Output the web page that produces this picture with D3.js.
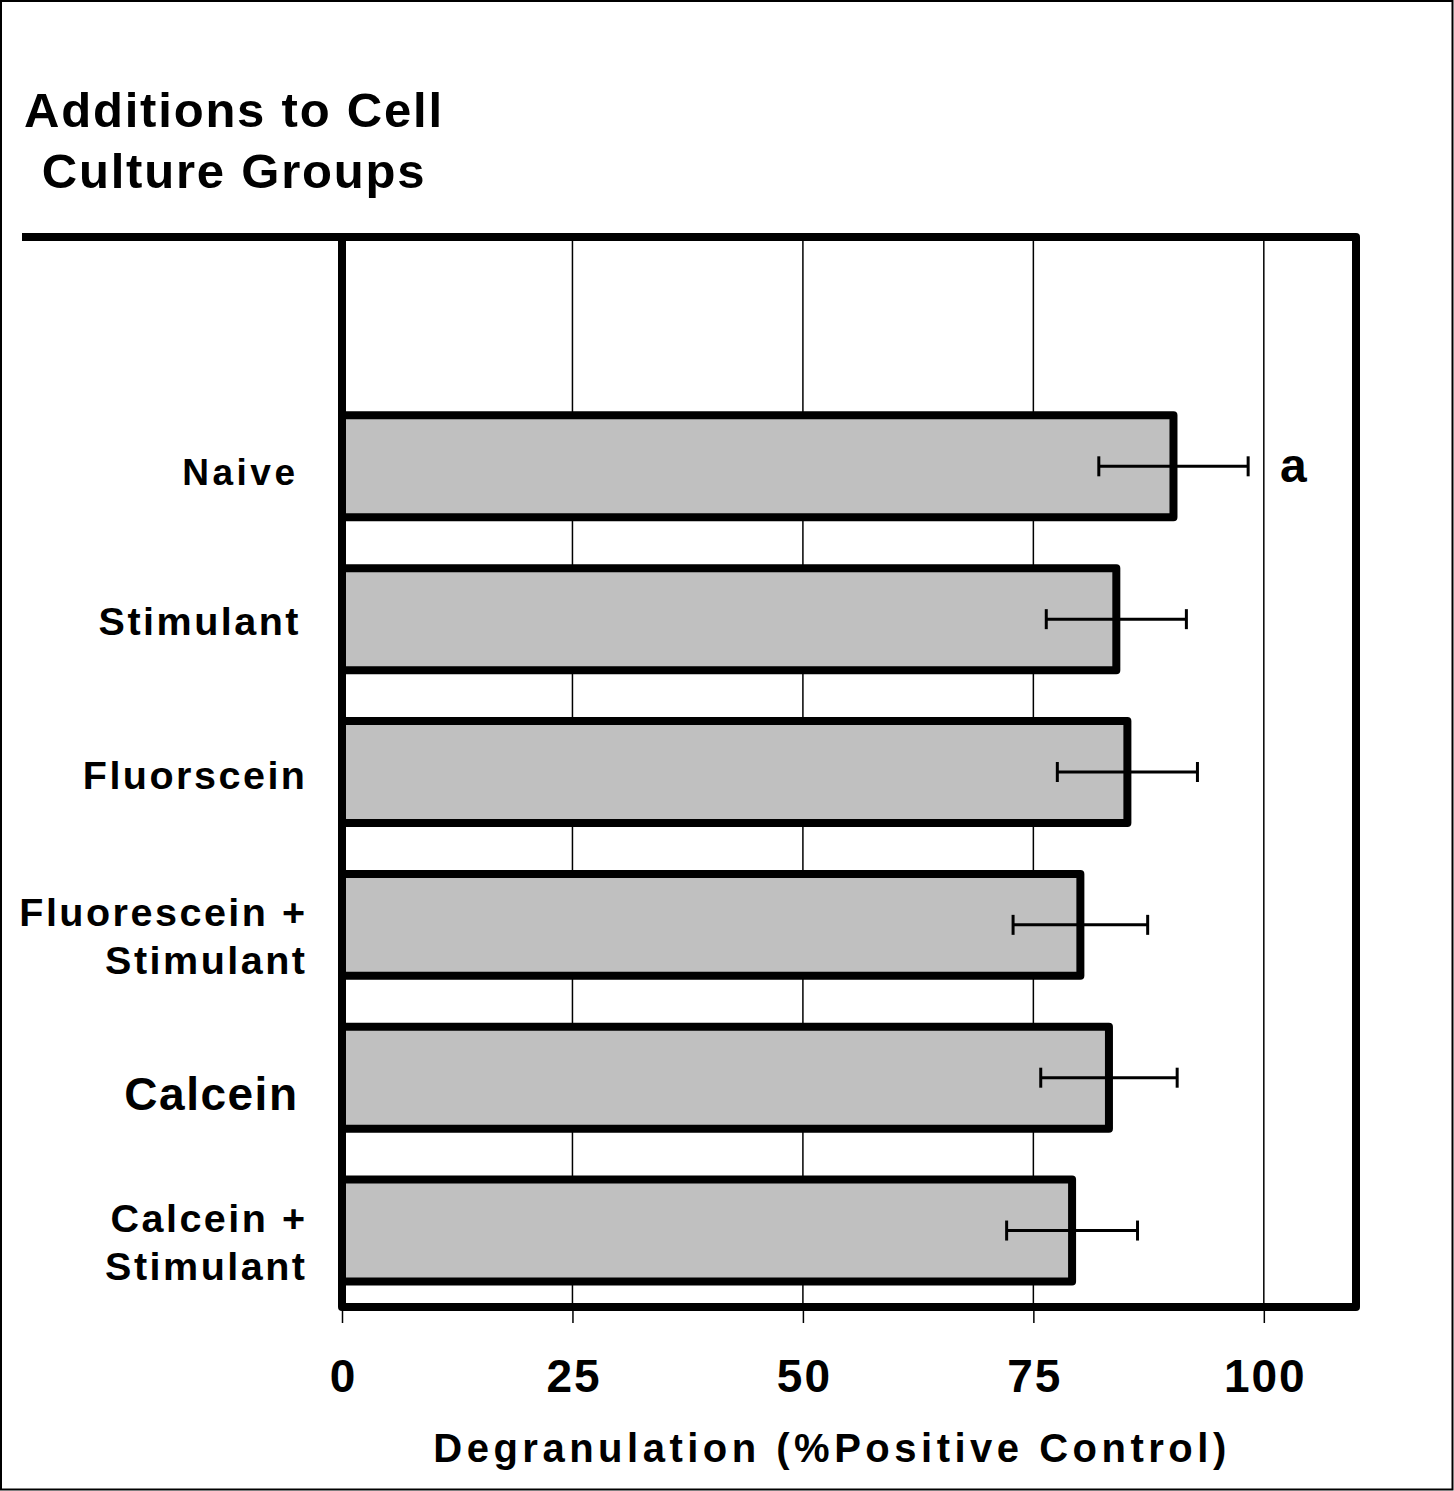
<!DOCTYPE html>
<html>
<head>
<meta charset="utf-8">
<script src="https://cdn.jsdelivr.net/npm/d3@7"></script>
<style>
  body { margin: 0; background: #fff; }
  svg { display: block; }
  text { font-family: "Liberation Sans", Arial, Helvetica, sans-serif; font-weight: bold; fill: #000; }
</style>
</head>
<body>
<svg id="chart" width="1454" height="1491"></svg>
<script>
// group names (multi-line labels split with \n)
const categories = [
  "Naive",
  "Stimulant",
  "Fluorscein",
  "Fluorescein +\nStimulant",
  "Calcein",
  "Calcein +\nStimulant"
];
// degranulation, % positive control
const means = [90.2, 84.0, 85.2, 80.1, 83.2, 79.2];
const errors = [8.1, 7.6, 7.6, 7.3, 7.4, 7.1];
const xTicks = [0, 25, 50, 75, 100];
const titleLines = ["Additions to Cell", "Culture Groups"];
const xTitle = "Degranulation (%Positive Control)";
const sigMarks = ["a", "", "", "", "", ""];

const svg = d3.select("#chart");
const W = +svg.attr("width");
const H = +svg.attr("height");

const plotLeft = 342, plotRight = 1356, plotTop = 237, plotBottom = 1307;

const x = d3.scaleLinear().domain([0, 110]).range([plotLeft, plotRight]);
// one empty band above the first group
const y = d3.scaleBand()
  .domain(categories)
  .range([plotTop + (plotBottom - plotTop) / 7, plotBottom])
  .paddingInner(0.333)
  .paddingOuter(0.1667);

// outer border
svg.append("rect")
  .attr("x", 1).attr("y", 1)
  .attr("width", W - 2.5).attr("height", H - 2.5)
  .attr("fill", "none").attr("stroke", "#000").attr("stroke-width", 2);

// title
svg.append("text")
  .attr("text-anchor", "middle")
  .attr("font-size", 49)
  .attr("letter-spacing", 1.8)
  .selectAll("tspan")
  .data(titleLines)
  .enter()
  .append("tspan")
  .attr("x", 234)
  .attr("y", (d, i) => 127 + i * 61)
  .text(d => d);

// grid lines
svg.selectAll("line.grid")
  .data(xTicks.filter(d => d > 0))
  .enter()
  .append("line")
  .attr("class", "grid")
  .attr("x1", d => x(d)).attr("x2", d => x(d))
  .attr("y1", plotTop).attr("y2", plotBottom)
  .attr("stroke", "#000").attr("stroke-width", 1.5);

// bars
svg.selectAll("rect.bar")
  .data(categories)
  .enter()
  .append("rect")
  .attr("class", "bar")
  .attr("x", x(0))
  .attr("y", d => y(d))
  .attr("width", (d, i) => x(means[i]) - x(0))
  .attr("height", y.bandwidth())
  .attr("fill", "#c0c0c0")
  .attr("stroke", "#000")
  .attr("stroke-width", 8)
  .attr("stroke-linejoin", "round");

// error bars
const err = svg.append("g").attr("stroke", "#000").attr("stroke-width", 3);
categories.forEach((c, i) => {
  const cy = y(c) + y.bandwidth() / 2;
  const lo = x(means[i] - errors[i]);
  const hi = x(means[i] + errors[i]);
  err.append("line").attr("x1", lo).attr("x2", hi).attr("y1", cy).attr("y2", cy);
  err.append("line").attr("x1", lo).attr("x2", lo).attr("y1", cy - 10).attr("y2", cy + 10);
  err.append("line").attr("x1", hi).attr("x2", hi).attr("y1", cy - 10).attr("y2", cy + 10);
});

// significance letters
svg.selectAll("text.sig")
  .data(sigMarks)
  .enter()
  .append("text")
  .attr("class", "sig")
  .attr("x", 1280)
  .attr("y", (d, i) => y(categories[i]) + y.bandwidth() / 2 + 16)
  .attr("font-size", 48)
  .text(d => d);

// frame
svg.append("path")
  .attr("d", `M22,${plotTop}H${plotRight}V${plotBottom}H${plotLeft}V${plotTop}`)
  .attr("fill", "none")
  .attr("stroke", "#000")
  .attr("stroke-width", 8)
  .attr("stroke-linejoin", "round");

// x axis ticks and labels
const xAxis = d3.axisBottom(x)
  .tickValues(xTicks)
  .tickSize(16)
  .tickPadding(36)
  .tickFormat(d3.format("d"));

const ax = svg.append("g")
  .attr("transform", `translate(0,${plotBottom})`)
  .call(xAxis);
ax.select(".domain").remove();
ax.selectAll(".tick line").attr("stroke", "#000").attr("stroke-width", 1.5);
ax.selectAll(".tick text")
  .attr("font-size", 46)
  .attr("font-family", "'Liberation Sans', Arial, sans-serif")
  .attr("font-weight", "bold")
  .attr("letter-spacing", 2)
  .attr("dx", 1)
  .attr("fill", "#000");

// x axis title
svg.append("text")
  .attr("x", 832)
  .attr("y", 1462)
  .attr("text-anchor", "middle")
  .attr("font-size", 40)
  .attr("letter-spacing", 4.5)
  .text(xTitle);

// category labels
categories.forEach((c, i) => {
  const cy = y(c) + y.bandwidth() / 2;
  const lines = c.split("\n");
  let size = 39.5, spacing = 2.5, ax0 = 307.5, dy = 17;
  if (c === "Calcein") { size = 46; spacing = 1.5; ax0 = 298.5; dy = 32; }
  if (c === "Naive") { size = 37; spacing = 3.5; ax0 = 298.5; dy = 19; }
  if (c === "Stimulant") { ax0 = 301; dy = 16; }
  const t = svg.append("text")
    .attr("text-anchor", "end")
    .attr("font-size", size)
    .attr("letter-spacing", spacing);
  lines.forEach((ln, j) => {
    t.append("tspan")
      .attr("x", ax0)
      .attr("y", lines.length === 1 ? cy + dy : cy + 1 + j * 48)
      .text(ln);
  });
});
</script>
</body>
</html>
